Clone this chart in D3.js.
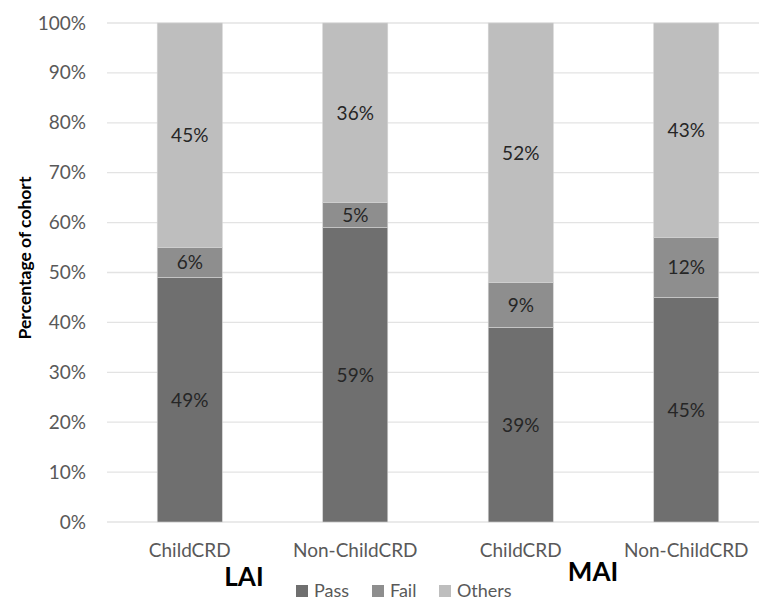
<!DOCTYPE html>
<html>
<head>
<meta charset="utf-8">
<script src="https://cdn.jsdelivr.net/npm/d3@7"></script>
<style>
  body { margin: 0; background: #fff; }
  svg text { font-family: Lato, "Open Sans", sans-serif; }
</style>
</head>
<body>
<svg id="chart" width="759" height="603"></svg>
<script>
// data
const categories = ["ChildCRD|LAI", "Non-ChildCRD|LAI", "ChildCRD|MAI", "Non-ChildCRD|MAI"];
const catLabels = ["ChildCRD", "Non-ChildCRD", "ChildCRD", "Non-ChildCRD"];
const groups = ["LAI", "MAI"];
const seriesNames = ["Pass", "Fail", "Others"];
const pass = [49, 59, 39, 45];
const fail = [6, 5, 9, 12];
const others = [45, 36, 52, 43];
const yTicks = [0, 10, 20, 30, 40, 50, 60, 70, 80, 90, 100];

const colors = {Pass: "#6f6f6f", Fail: "#8e8e8e", Others: "#bebebe"};

const rows = categories.map((c, i) => ({cat: c, Pass: pass[i], Fail: fail[i], Others: others[i]}));
const stack = d3.stack().keys(seriesNames)(rows);

const svg = d3.select("#chart");

let x = d3.scaleBand()
  .domain(categories)
  .range([107, 769])
  .paddingInner(0.607)
  .paddingOuter(0.3035);

let y = d3.scaleLinear()
  .domain([0, 100])
  .range([522, 23]);

// gridlines
svg.append("g")
  .selectAll("line")
  .data(yTicks)
  .enter().append("line")
    .attr("x1", 107)
    .attr("x2", 759)
    .attr("y1", d => y(d))
    .attr("y2", d => y(d))
    .attr("stroke", "#e3e3e3")
    .attr("stroke-width", 1.3);

// y axis labels
const yAxis = svg.append("g")
  .attr("transform", "translate(92,0)")
  .call(d3.axisLeft(y).tickValues(yTicks).tickFormat(d => d + "%").tickSize(0).tickPadding(6));
yAxis.select(".domain").remove();
yAxis.selectAll("text")
  .attr("fill", "#595959")
  .style("font-size", "19px");

// bars
const layer = svg.append("g")
  .selectAll("g")
  .data(stack)
  .enter().append("g")
    .attr("fill", d => colors[d.key]);

layer.selectAll("rect")
  .data(d => d)
  .enter().append("rect")
    .attr("x", d => x(d.data.cat))
    .attr("width", x.bandwidth())
    .attr("y", d => y(d[1]))
    .attr("height", d => y(d[0]) - y(d[1]))
    .attr("stroke", "#d4d4d4")
    .attr("stroke-width", 0.6);

// value labels
layer.selectAll("text")
  .data(d => d)
  .enter().append("text")
    .attr("x", d => x(d.data.cat) + x.bandwidth() / 2)
    .attr("y", d => y((d[0] + d[1]) / 2))
    .attr("dy", "0.36em")
    .attr("text-anchor", "middle")
    .attr("fill", "#262626")
    .style("font-size", "19px")
    .text(d => (d[1] - d[0]) + "%");

// category labels
svg.append("g")
  .selectAll("text")
  .data(categories)
  .enter().append("text")
    .attr("x", d => x(d) + x.bandwidth() / 2)
    .attr("y", 557)
    .attr("text-anchor", "middle")
    .attr("fill", "#595959")
    .style("font-size", "19px")
    .text((d, i) => catLabels[i]);

// group labels
const groupPos = [{x: 244, y: 586}, {x: 593, y: 581}];
svg.append("g")
  .selectAll("text")
  .data(groups)
  .enter().append("text")
    .attr("x", (d, i) => groupPos[i].x)
    .attr("y", (d, i) => groupPos[i].y)
    .attr("text-anchor", "middle")
    .attr("fill", "#000")
    .style("font-size", "26px")
    .style("font-weight", "bold")
    .text(d => d);

// y axis title
svg.append("text")
  .attr("transform", "translate(25,258) rotate(-90)")
  .attr("text-anchor", "middle")
  .attr("dy", "0.36em")
  .attr("fill", "#000")
  .style("font-size", "17.5px")
  .style("font-weight", "bold")
  .text("Percentage of cohort");

// legend
const legendX = [296, 372, 439];
const legend = svg.append("g")
  .selectAll("g")
  .data(seriesNames)
  .enter().append("g")
    .attr("transform", (d, i) => "translate(" + legendX[i] + ",597)");
legend.append("rect")
  .attr("x", 0)
  .attr("y", -12)
  .attr("width", 12)
  .attr("height", 12)
  .attr("fill", d => colors[d]);
legend.append("text")
  .attr("x", 18)
  .attr("y", 0)
  .attr("fill", "#595959")
  .style("font-size", "18px")
  .text(d => d);
</script>
</body>
</html>
